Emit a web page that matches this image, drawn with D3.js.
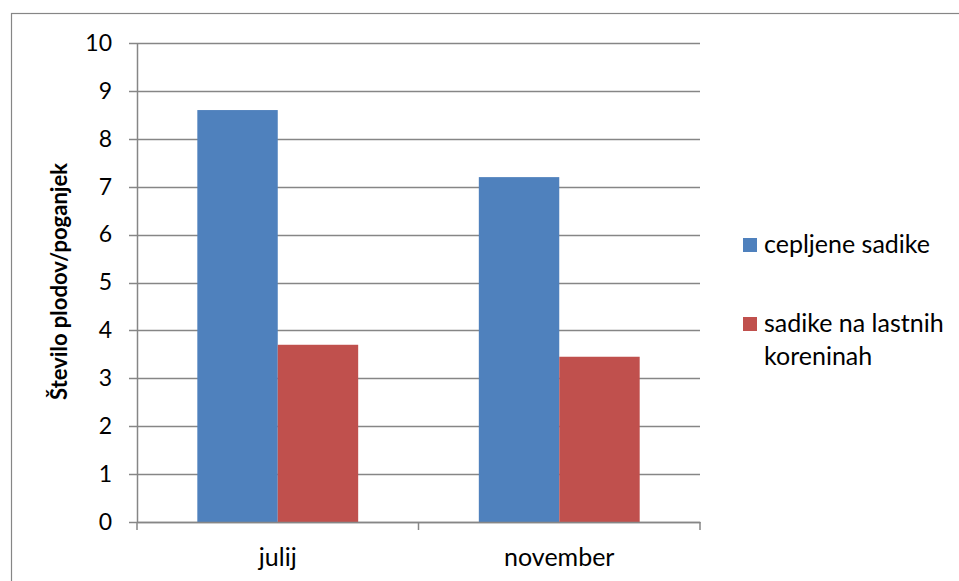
<!DOCTYPE html>
<html>
<head>
<meta charset="utf-8">
<script src="https://cdn.jsdelivr.net/npm/d3@7"></script>
<style>
  body { margin: 0; background: #fff; }
  text { font-family: Lato, "Open Sans", sans-serif; fill: #000; }
</style>
</head>
<body>
<div id="chart"></div>
<script>
// data
let categories = ["julij", "november"];
let seriesNames = ["cepljene sadike", "sadike na lastnih koreninah"];
let cepljene = [8.6, 7.2];
let lastne = [3.7, 3.45];
let yTicks = [0, 1, 2, 3, 4, 5, 6, 7, 8, 9, 10];
let colors = ["#4F81BD", "#C0504D"];

let svgWidth = 959;
let svgHeight = 581;

let margin = { top: 43, right: 259, bottom: 59, left: 137 };
let width = svgWidth - margin.left - margin.right;
let height = svgHeight - margin.top - margin.bottom;

var svg = d3.select("#chart")
    .append("svg")
    .attr("width", svgWidth)
    .attr("height", svgHeight);

// outer border of the chart
svg.append("rect")
    .attr("x", 11.5)
    .attr("y", 13.5)
    .attr("width", 960)
    .attr("height", 580)
    .attr("fill", "none")
    .attr("stroke", "#868686")
    .attr("stroke-width", 1.2);

var chartGroup = svg.append("g")
    .attr("transform", `translate(${margin.left}, ${margin.top})`);

// scales
var xScale = d3.scaleBand()
    .domain(categories)
    .range([0, width]);

var xInner = d3.scaleBand()
    .domain(seriesNames)
    .range([0, xScale.bandwidth()])
    .paddingOuter(0.75);

var yScale = d3.scaleLinear()
    .domain([0, 10])
    .range([height, 0]);

// gridlines
chartGroup.append("g")
    .selectAll("line")
    .data(yTicks)
    .enter()
    .append("line")
    .attr("x1", -8)
    .attr("x2", width)
    .attr("y1", d => Math.round(yScale(d)) + 0.5)
    .attr("y2", d => Math.round(yScale(d)) + 0.5)
    .attr("stroke", "#868686")
    .attr("stroke-width", 1.5);

// bars
var rows = categories.map((c, i) => ({ cat: c, values: [cepljene[i], lastne[i]] }));

chartGroup.selectAll(".grp")
    .data(rows)
    .enter()
    .append("g")
    .attr("transform", d => `translate(${xScale(d.cat)}, 0)`)
    .selectAll("rect")
    .data(d => d.values.map((v, j) => ({ name: seriesNames[j], value: v, j: j })))
    .enter()
    .append("rect")
    .attr("x", d => xInner(d.name))
    .attr("y", d => yScale(d.value))
    .attr("width", xInner.bandwidth())
    .attr("height", d => height - yScale(d.value))
    .attr("fill", d => colors[d.j]);

// y axis
var leftAxis = d3.axisLeft(yScale)
    .tickValues(yTicks)
    .tickSize(0)
    .tickPadding(25);

var yAxisG = chartGroup.append("g").call(leftAxis);
yAxisG.select(".domain").attr("stroke", "#868686").attr("stroke-width", 1.5);
yAxisG.selectAll("text")
    .attr("font-size", "23px")
    .attr("font-family", "Lato, sans-serif")
    .attr("fill", "#000");

// x axis
var bottomAxis = d3.axisBottom(xScale)
    .tickSize(0)
    .tickPadding(26);

var xAxisG = chartGroup.append("g")
    .attr("transform", `translate(0, ${height})`)
    .call(bottomAxis);
xAxisG.select(".domain").attr("stroke", "#868686").attr("stroke-width", 1.5);
xAxisG.selectAll("text")
    .attr("font-size", "25px")
    .attr("font-family", "Lato, sans-serif")
    .attr("fill", "#000");

// tick marks between categories
xAxisG.selectAll(".sep")
    .data([0, width / 2, width])
    .enter()
    .append("line")
    .attr("x1", d => d)
    .attr("x2", d => d)
    .attr("y1", 0)
    .attr("y2", 8)
    .attr("stroke", "#868686")
    .attr("stroke-width", 1.5);

// y axis title
chartGroup.append("text")
    .attr("transform", "rotate(-90)")
    .attr("x", -(height / 2) + 1)
    .attr("y", -margin.left + 67)
    .attr("text-anchor", "middle")
    .attr("font-size", "22px")
    .attr("font-weight", "bold")
    .text("Število plodov/poganjek");

// legend
var legend = svg.append("g");
var legendItems = [
    { color: colors[0], lines: ["cepljene sadike"], y: 238 },
    { color: colors[1], lines: ["sadike na lastnih", "koreninah"], y: 317 }
];
legendItems.forEach(function(item) {
    legend.append("rect")
        .attr("x", 743)
        .attr("y", item.y)
        .attr("width", 14)
        .attr("height", 14)
        .attr("fill", item.color);
    item.lines.forEach(function(line, k) {
        legend.append("text")
            .attr("x", 764)
            .attr("y", item.y + 15 + k * 33)
            .attr("font-size", "25px")
            .text(line);
    });
});
</script>
</body>
</html>
